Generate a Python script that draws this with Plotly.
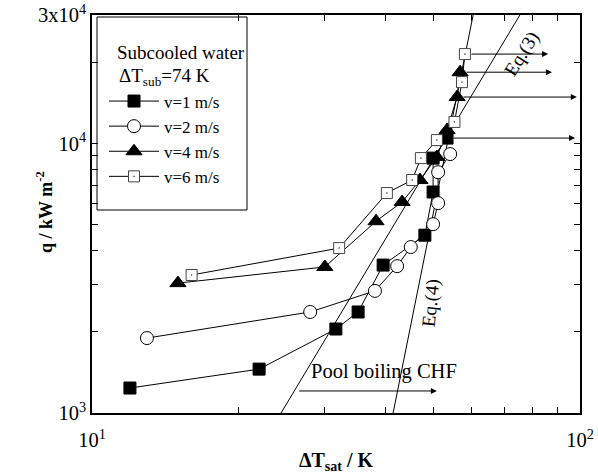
import numpy as np
import plotly.graph_objects as go

# ---- data ----
v1_x = [11.96, 22.0, 31.6, 35.1, 39.5, 48.1, 50.0, 50.0, 53.4]
v1_y = [1238, 1455, 2050, 2371, 3540, 4570, 6610, 8830, 10480]

v2_x = [12.96, 28.0, 38.0, 42.2, 45.0, 50.0, 51.2, 51.2, 54.2]
v2_y = [1897, 2371, 2839, 3508, 4130, 5020, 6010, 7830, 9140]

v4_x = [15.0, 30.0, 38.2, 43.2, 47.0, 50.9, 53.4, 56.0, 56.8]
v4_y = [3034, 3484, 5150, 6070, 7320, 8910, 11220, 14880, 18400]

v6_x = [16.0, 32.1, 40.2, 45.3, 47.2, 50.9, 55.3, 57.3, 58.1]
v6_y = [3252, 4093, 6550, 7320, 8830, 10300, 12030, 16900, 21480]

series_names = ["v=1 m/s", "v=2 m/s", "v=4 m/s", "v=6 m/s"]

eq3_x = [24.4, 75.3]
eq3_y = [1000, 30000]
eq4_x = [41.4, 60.4]
eq4_y = [1000, 30000]

# arrows: start (x, y) -> end x  (CHF not reached)
arrow_start_x = [53.4, 56.0, 56.8, 58.1]
arrow_y = [10480, 14880, 18400, 21480]
arrow_end_x = [97.7, 98.5, 87.6, 86.0]

pool_chf_x = [26.4, 50.9]
pool_chf_y = 1207

x_tickvals = [10, 100]
x_ticktext = ["10<sup>1</sup>", "10<sup>2</sup>"]
x_minor = [20, 30, 40, 50, 60, 70, 80, 90]
y_tickvals = [1000, 10000, 30000]
y_ticktext = ["10<sup>3</sup>", "10<sup>4</sup>", "3x10<sup>4</sup>"]
y_minor = [2000, 3000, 4000, 5000, 6000, 7000, 8000, 9000, 20000]

FONT = "Liberation Serif"

W, H = 598, 474
L, T = 92, 15
PW, PH = 488, 398


def px(xp):   # window x pixel -> paper x
    return (xp - L) / PW


def py(yp):   # window y pixel -> paper y
    return (T + PH - yp) / PH


fig = go.Figure()

# model lines
fig.add_trace(go.Scatter(x=eq3_x, y=eq3_y, mode="lines", line=dict(color="black", width=1),
                         showlegend=False, hoverinfo="skip"))
fig.add_trace(go.Scatter(x=eq4_x, y=eq4_y, mode="lines", line=dict(color="black", width=1),
                         showlegend=False, hoverinfo="skip"))

styles = [
    dict(symbol="square", size=12, color="black", line=dict(color="black", width=1)),
    dict(symbol="circle", size=13, color="white", line=dict(color="black", width=1)),
    dict(symbol="triangle-up", size=14, color="black", line=dict(color="black", width=1)),
    dict(symbol="square-dot", size=11, color="white", line=dict(color="#444", width=1)),
]
for xs, ys, nm, st in zip([v1_x, v2_x, v4_x, v6_x], [v1_y, v2_y, v4_y, v6_y], series_names, styles):
    fig.add_trace(go.Scatter(x=xs, y=ys, mode="lines+markers", name=nm,
                             line=dict(color="black", width=1), marker=st))

annotations = []
for sx, yy, ex in zip(arrow_start_x, arrow_y, arrow_end_x):
    annotations.append(dict(x=np.log10(ex), y=np.log10(yy), ax=np.log10(sx), ay=np.log10(yy),
                            xref="x", yref="y", axref="x", ayref="y", text="", showarrow=True,
                            arrowhead=2, arrowsize=1.2, arrowwidth=1, arrowcolor="black",
                            startstandoff=5))
annotations.append(dict(x=np.log10(pool_chf_x[1]), y=np.log10(pool_chf_y), ax=np.log10(pool_chf_x[0]),
                        ay=np.log10(pool_chf_y), xref="x", yref="y", axref="x", ayref="y", text="",
                        showarrow=True, arrowhead=2, arrowsize=1.2, arrowwidth=1, arrowcolor="black"))
annotations.append(dict(x=np.log10(27.9), y=np.log10(1420), xref="x", yref="y", text="Pool boiling CHF",
                        showarrow=False, xanchor="left", yanchor="middle",
                        font=dict(family=FONT, size=20.5, color="black")))
annotations.append(dict(x=np.log10(76.0), y=np.log10(21500), xref="x", yref="y", text="Eq.(3)",
                        showarrow=False, textangle=-58, font=dict(family=FONT, size=19, color="black")))
annotations.append(dict(x=np.log10(49.5), y=np.log10(2560), xref="x", yref="y", text="Eq.(4)",
                        showarrow=False, textangle=-84, font=dict(family=FONT, size=19, color="black")))
annotations.append(dict(x=px(115), y=py(52), xref="paper", yref="paper",
                        text="Subcooled water", showarrow=False, xanchor="left", yanchor="middle",
                        font=dict(family=FONT, size=19, color="black")))
annotations.append(dict(x=px(117), y=py(77), xref="paper", yref="paper",
                        text="ΔT<sub>sub</sub>=74 K", showarrow=False, xanchor="left", yanchor="middle",
                        font=dict(family=FONT, size=19, color="black")))
annotations.append(dict(x=px(44), y=py(212), xref="paper", yref="paper",
                        text="<b>q / kW m<sup>-2</sup></b>", showarrow=False, textangle=-90,
                        xanchor="center", yanchor="middle",
                        font=dict(family=FONT, size=18, color="black")))

shapes = [dict(type="rect", xref="paper", yref="paper",
               x0=px(97), x1=px(247), y0=py(210), y1=py(17),
               line=dict(color="black", width=1), fillcolor="rgba(0,0,0,0)")]

axis_common = dict(type="log", showgrid=False, zeroline=False, showline=True, linecolor="black",
                   linewidth=1.5, mirror="ticks", ticks="inside", ticklen=6, tickwidth=1,
                   tickcolor="black", automargin=False, ticklabeloverflow="allow",
                   tickfont=dict(family=FONT, size=20.5, color="black"))

fig.update_layout(
    width=W, height=H,
    margin=dict(l=L, r=W - L - PW, t=T, b=H - T - PH),
    paper_bgcolor="white", plot_bgcolor="white",
    font=dict(family=FONT, color="black"),
    xaxis=dict(range=[1, 2], tickvals=x_tickvals, ticktext=x_ticktext, ticklabelstandoff=8,
               minor=dict(tickvals=x_minor, ticks="inside", ticklen=6, tickwidth=1, tickcolor="black",
                          showgrid=False),
               title=dict(text="<b>ΔT<sub>sat</sub> / K</b>", font=dict(family=FONT, size=20)),
               **axis_common),
    yaxis=dict(range=[3, np.log10(30000)], tickvals=y_tickvals, ticktext=y_ticktext,
               minor=dict(tickvals=y_minor, ticks="inside", ticklen=6, tickwidth=1, tickcolor="black",
                          showgrid=False),
               **axis_common),
    legend=dict(x=px(104), y=py(83.5), xanchor="left", yanchor="top",
                bgcolor="rgba(0,0,0,0)", borderwidth=0, font=dict(family=FONT, size=17, color="black"),
                itemwidth=50, tracegroupgap=0),
    annotations=annotations,
    shapes=shapes,
    showlegend=True,
)

# remove the browser's default 8px body margin so the figure sits at the window origin
fig.write_html("out.html", config={"displayModeBar": False},
               post_script="document.body.style.margin='0px';")
